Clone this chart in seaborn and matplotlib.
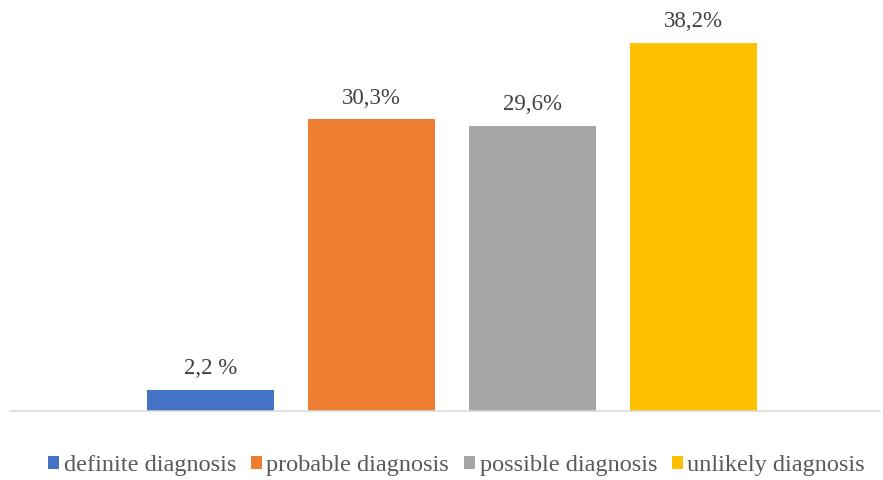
import matplotlib
matplotlib.use("Agg")
import matplotlib.pyplot as plt
from matplotlib.patches import Patch
import seaborn as sns
import pandas as pd

categories = ["definite diagnosis", "probable diagnosis", "possible diagnosis", "unlikely diagnosis"]
values = [2.2, 30.3, 29.6, 38.2]
value_labels = ["2,2 %", "30,3%", "29,6%", "38,2%"]
colors = ["#4472C4", "#ED7D31", "#A5A5A5", "#FFC000"]

sns.set_theme(style="white")
plt.rcParams["font.family"] = ["Liberation Serif", "DejaVu Serif"]

df = pd.DataFrame({"diagnosis": categories, "share": values})

fig = plt.figure(figsize=(8.83, 4.8), dpi=100)
ax = fig.add_axes([10 / 883, 69 / 480, 870 / 883, 401 / 480])

sns.barplot(data=df, x="diagnosis", y="share", hue="diagnosis",
            palette=colors, width=0.789, legend=False, ax=ax, saturation=1,
            edgecolor="none", linewidth=0)

ax.set_xlim(-1.245, 4.158)
ax.set_ylim(0, 41.6)
ax.set_xlabel("")
ax.set_ylabel("")
ax.set_xticks([])
ax.set_yticks([])
for side in ["top", "left", "right"]:
    ax.spines[side].set_visible(False)
ax.spines["bottom"].set_color("#D9D9D9")
ax.spines["bottom"].set_linewidth(1.1)

for container, lab in zip(ax.containers, value_labels):
    ax.bar_label(container, labels=[lab], padding=7.5, fontsize=16.5, color="#404040")

handles = [Patch(facecolor=c, edgecolor="none", label=n) for c, n in zip(colors, categories)]
fig.legend(handles=handles, loc="center", bbox_to_anchor=(0.517, 1 - 466 / 480), ncol=4,
           frameon=False, fontsize=17.5, handlelength=0.45, handleheight=0.45,
           handletextpad=0.2, columnspacing=0.6, labelcolor="#595959")

fig.savefig("out.png", dpi=100)
